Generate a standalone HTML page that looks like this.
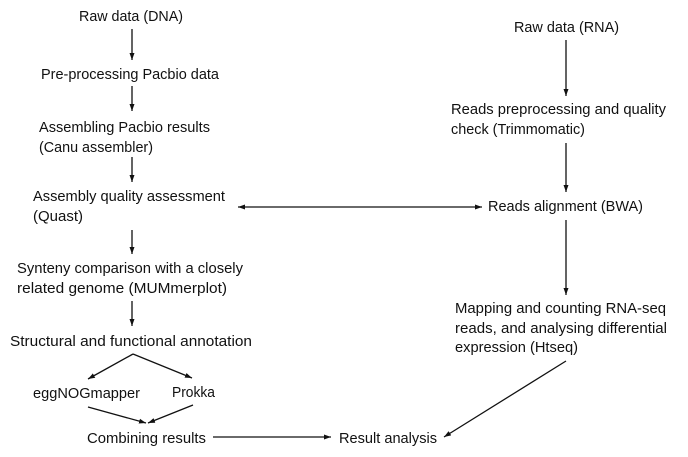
<!DOCTYPE html>
<html><head><style>
html,body{margin:0;padding:0;background:#fff;}
svg{display:block;}
text{font-family:"Liberation Sans",sans-serif;font-size:14.5px;fill:#111;}
</style></head><body>
<svg width="688" height="457" viewBox="0 0 688 457" xmlns="http://www.w3.org/2000/svg">
<defs>
<marker id="a" markerWidth="8" markerHeight="8" refX="7" refY="4" orient="auto" markerUnits="userSpaceOnUse">
<path d="M0,1.5 L7,4 L0,6.5 Z" fill="#111"/></marker>
<marker id="s" markerWidth="8" markerHeight="8" refX="1" refY="4" orient="auto" markerUnits="userSpaceOnUse">
<path d="M8,1.5 L1,4 L8,6.5 Z" fill="#111"/></marker>
</defs>
<g stroke="#111" stroke-width="1.3" fill="none">
<line x1="132" y1="29" x2="132" y2="60" marker-end="url(#a)"/>
<line x1="132" y1="86" x2="132" y2="111" marker-end="url(#a)"/>
<line x1="132" y1="157" x2="132" y2="182" marker-end="url(#a)"/>
<line x1="132" y1="230" x2="132" y2="254" marker-end="url(#a)"/>
<line x1="132" y1="301" x2="132" y2="326" marker-end="url(#a)"/>
<line x1="133" y1="354" x2="88" y2="379" marker-end="url(#a)"/>
<line x1="133" y1="354" x2="192" y2="378" marker-end="url(#a)"/>
<line x1="88" y1="407" x2="146" y2="423" marker-end="url(#a)"/>
<line x1="193" y1="405" x2="148" y2="423" marker-end="url(#a)"/>
<line x1="213" y1="437" x2="331" y2="437" marker-end="url(#a)"/>
<line x1="238" y1="207" x2="482" y2="207" marker-start="url(#s)" marker-end="url(#a)"/>
<line x1="566" y1="40" x2="566" y2="96" marker-end="url(#a)"/>
<line x1="566" y1="143" x2="566" y2="192" marker-end="url(#a)"/>
<line x1="566" y1="220" x2="566" y2="295" marker-end="url(#a)"/>
<line x1="566" y1="361" x2="444" y2="437" marker-end="url(#a)"/>
</g>
<text x="79" y="21" textLength="104" lengthAdjust="spacingAndGlyphs">Raw data (DNA)</text>
<text x="41" y="79" textLength="178" lengthAdjust="spacingAndGlyphs">Pre-processing Pacbio data</text>
<text x="39" y="132" textLength="171" lengthAdjust="spacingAndGlyphs">Assembling Pacbio results</text>
<text x="39" y="152" textLength="114" lengthAdjust="spacingAndGlyphs">(Canu assembler)</text>
<text x="33" y="201" textLength="192" lengthAdjust="spacingAndGlyphs">Assembly quality assessment</text>
<text x="33" y="221" textLength="50" lengthAdjust="spacingAndGlyphs">(Quast)</text>
<text x="17" y="273" textLength="226" lengthAdjust="spacingAndGlyphs">Synteny comparison with a closely</text>
<text x="17" y="293" textLength="210" lengthAdjust="spacingAndGlyphs">related genome (MUMmerplot)</text>
<text x="10" y="346" textLength="242" lengthAdjust="spacingAndGlyphs">Structural and functional annotation</text>
<text x="33" y="398" textLength="107" lengthAdjust="spacingAndGlyphs">eggNOGmapper</text>
<text x="172" y="397" textLength="43" lengthAdjust="spacingAndGlyphs">Prokka</text>
<text x="87" y="443" textLength="119" lengthAdjust="spacingAndGlyphs">Combining results</text>
<text x="339" y="443" textLength="98" lengthAdjust="spacingAndGlyphs">Result analysis</text>
<text x="514" y="32" textLength="105" lengthAdjust="spacingAndGlyphs">Raw data (RNA)</text>
<text x="451" y="114" textLength="215" lengthAdjust="spacingAndGlyphs">Reads preprocessing and quality</text>
<text x="451" y="134" textLength="134" lengthAdjust="spacingAndGlyphs">check (Trimmomatic)</text>
<text x="488" y="211" textLength="155" lengthAdjust="spacingAndGlyphs">Reads alignment (BWA)</text>
<text x="455" y="313" textLength="211" lengthAdjust="spacingAndGlyphs">Mapping and counting RNA-seq</text>
<text x="455" y="333" textLength="212" lengthAdjust="spacingAndGlyphs">reads, and analysing differential</text>
<text x="455" y="352" textLength="123" lengthAdjust="spacingAndGlyphs">expression (Htseq)</text>
</svg>
</body></html>
